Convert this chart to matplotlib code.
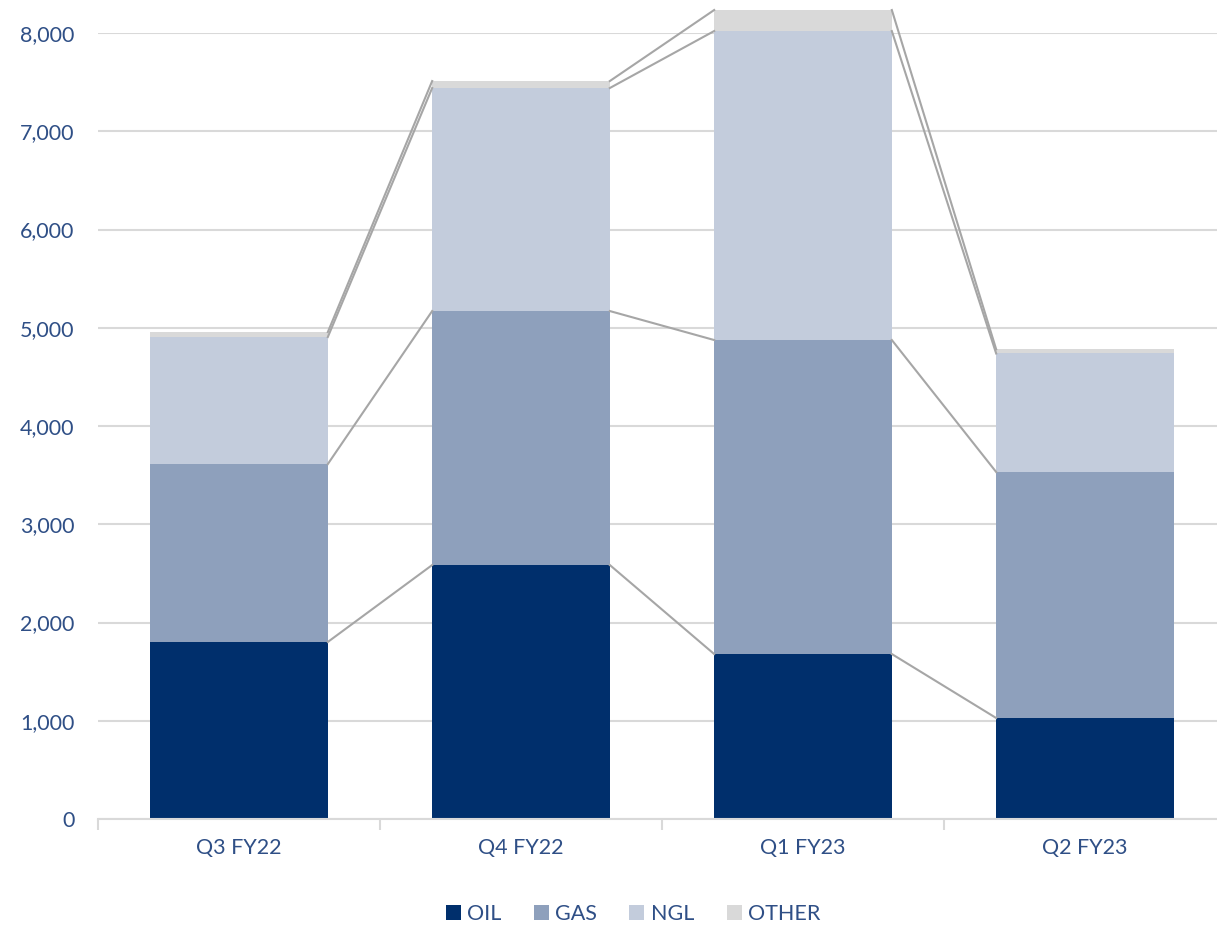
import numpy as np
import matplotlib
matplotlib.use('Agg')
import matplotlib.pyplot as plt

# values
quarters = ['Q3 FY22', 'Q4 FY22', 'Q1 FY23', 'Q2 FY23']
oil = [1802, 2585, 1679, 1028]
gas = [1811, 2585, 3196, 2504]
ngl = [1293, 2270, 3145, 1206]
other = [50, 71, 214, 43]

names = ['OIL', 'GAS', 'NGL', 'OTHER']
colors = ['#002F6C', '#8EA0BC', '#C3CCDC', '#D9D9D9']
txt_color = '#2F4F86'

plt.rcParams['font.family'] = ['Lato', 'DejaVu Sans']

fig = plt.figure(figsize=(12.17, 9.25), dpi=100)
ax = fig.add_axes([98/1217, 1 - 819/925, 1128/1217, (819 - 33)/925])

x = np.arange(len(quarters))
w = 0.63
bottom = np.zeros(len(quarters))
series = [oil, gas, ngl, other]
for name, vals, c in zip(names, series, colors):
    vals = np.array(vals, dtype=float)
    ax.bar(x, vals, w, bottom=bottom, color=c, label=name, zorder=2, clip_on=False)
    bottom = bottom + vals
    # series lines between bars
    for i in range(len(x) - 1):
        ax.plot([x[i] + w/2, x[i+1] - w/2], [bottom[i], bottom[i+1]],
                color='#A6A6A6', lw=1.5, zorder=3, clip_on=False)

ax.set_xlim(-0.5, 3.5)
ax.set_ylim(0, 8000)
ax.set_yticks(np.arange(0, 8001, 1000))
ax.yaxis.set_major_formatter(matplotlib.ticker.FuncFormatter(lambda v, p: f'{int(v):,}'))
ax.grid(axis='y', color='#D9D9D9', lw=1.5, zorder=0)
ax.set_xticks(x)
ax.set_xticklabels(quarters)
ax.set_xticks(np.arange(-0.5, 4, 1), minor=True)
ax.tick_params(axis='x', which='major', length=0, pad=14, labelsize=15.5, labelcolor=txt_color)
ax.tick_params(axis='x', which='minor', length=8, width=1.5, color='#D9D9D9')
ax.tick_params(axis='y', length=0, pad=17, labelsize=15.5, labelcolor=txt_color)
for s in ['top', 'right', 'left']:
    ax.spines[s].set_visible(False)
ax.spines['bottom'].set_color('#D9D9D9')
ax.spines['bottom'].set_linewidth(1.5)

ax.legend(loc='center', bbox_to_anchor=(535/1128, (819 - 914)/786), ncol=4, frameon=False,
          fontsize=15.5, labelcolor=txt_color, handlelength=0.7, handleheight=0.7,
          handletextpad=0.3, columnspacing=1.5)

fig.savefig('out.png', dpi=100)
